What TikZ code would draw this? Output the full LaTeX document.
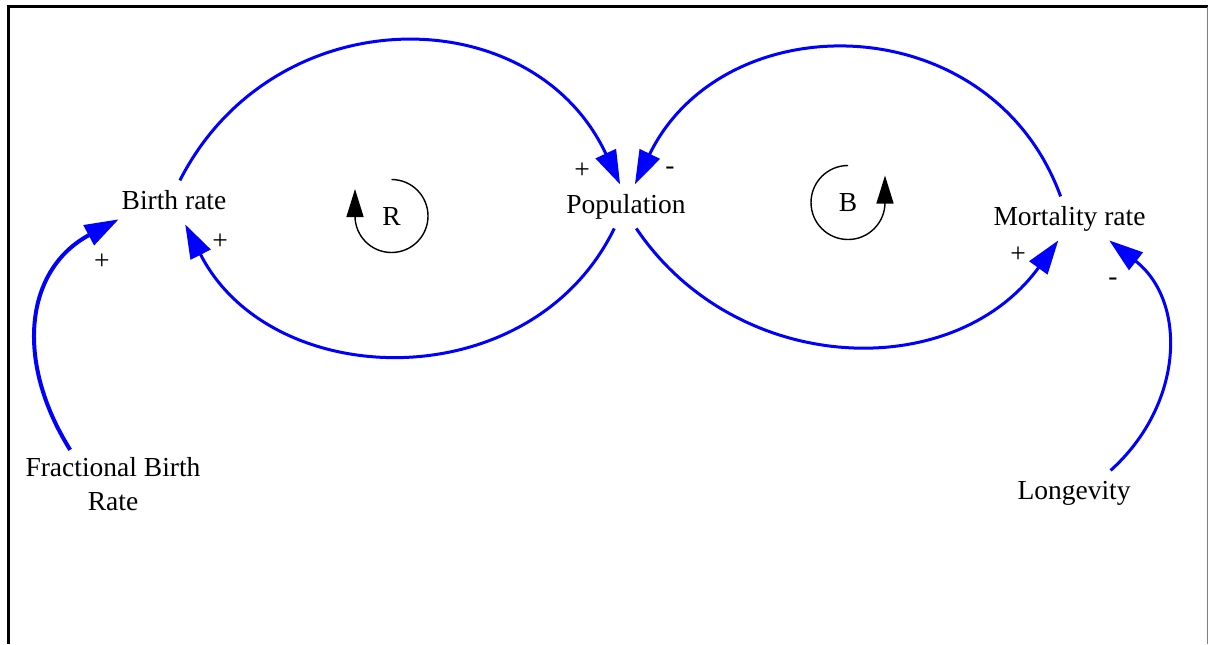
\documentclass[tikz,border=0pt]{standalone}
\usepackage{fontspec}
\setmainfont{Liberation Serif}
\usetikzlibrary{arrows.meta}
\definecolor{linkblue}{RGB}{0,0,255}

\begin{document}
\begin{tikzpicture}[x=0.5pt,y=-0.5pt,
  var/.style={font=\fontsize{13.75}{17}\selectfont,inner xsep=1.5pt,inner ysep=0pt,minimum height=22pt,outer sep=0pt},
  word/.style={var,text height=9.6pt,text depth=3pt},
  sign/.style={font=\fontsize{13.75}{17}\selectfont,inner sep=0pt},
  link/.style={linkblue,line width=1.5pt,-{Triangle[length=17pt,width=11pt]}},
  loopsym/.style={black,line width=0.7pt,-{Triangle[length=14pt,width=8.5pt]}}]
\useasboundingbox (0,0) rectangle (1208,644);
\draw[line width=1.2pt] (8.5,644) -- (8.5,6.5) -- (1207.5,6.5);
\draw[gray,line width=0.5pt] (1207.5,6.5) -- (1207.5,644);

% variables
\node[word] (birth) at (174,202.4) {Birth rate};
\node[word] (pop) at (626,206.4) {Population};
\node[word] (mort) at (1069.5,218.4) {Mortality rate};
\node[word] (long) at (1074,492.4) {Longevity};
\node[var,align=center,inner ysep=4pt] (frac) at (113,484.5) {Fractional Birth\\Rate};

% causal links
\draw[link] (birth.75) to[out=63,in=115,looseness=1.2] (pop.105);
\draw[link] (pop.-118) to[out=-116,in=-63,looseness=1.13] (birth.-63);
\draw[link] (mort.112) to[out=110,in=64,looseness=1.22] (pop.68);
\draw[link] (pop.-65) to[out=-56,in=-126,looseness=1.08] (mort.-117);
\draw[link,line width=2pt] (frac.141) to[out=122,in=-152,looseness=1.15] (birth.-163);
\draw[link] (long.31) to[out=42,in=-38,looseness=1.1] (mort.-29);

% polarities
\node[sign] (plusBP) at (582,171) {+};
\node[sign] (minusMP) at (670,171) {-};
\node[sign] (plusPB) at (220,242) {+};
\node[sign] (plusFB) at (102,262) {+};
\node[sign] (plusPM) at (1018,255) {+};
\node[sign] (minusLM) at (1113,282) {-};

% loop markers
\node[sign] (loopR) at (391.5,216) {R};
\draw[loopsym] ([yshift=18.25pt]loopR.center) arc[start angle=90,end angle=-180,radius=18.25pt] -- ++(0,13.5pt);
\node[sign] (loopB) at (848,202.5) {B};
\draw[loopsym] ([yshift=18.5pt]loopB.center) arc[start angle=90,end angle=360,radius=18.5pt] -- ++(0,13.5pt);
\end{tikzpicture}
\end{document}
